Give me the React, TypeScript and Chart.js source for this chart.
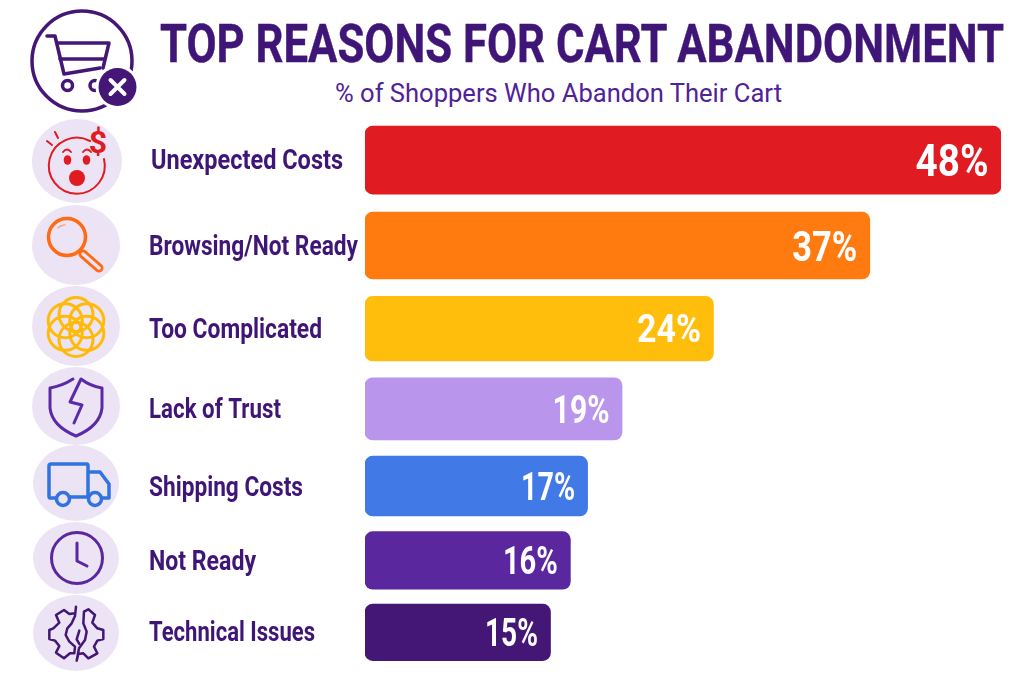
import React, { useEffect, useRef } from "react";
import { Chart, CategoryScale, registerables } from "chart.js";

const categories = ["Unexpected Costs", "Browsing/Not Ready", "Too Complicated", "Lack of Trust", "Shipping Costs", "Not Ready", "Technical Issues"];
const valueLabels = ["48%", "37%", "24%", "19%", "17%", "16%", "15%"];
// bar lengths, in the picture's own % scale
const barLengths = [48, 38.1, 26.3, 19.4, 16.8, 15.5, 14];
const barColors = ["#E01B22", "#FF7B10", "#FFBE0B", "#B995EC", "#4179E6", "#5B279F", "#441675"];
const labelWidths = [192, 209, 173, 132, 154, 107, 166];
const valueSizes = [45, 43, 39, 39, 39, 39, 38];
const valueWidths = [73, 65, 64, 57, 54, 55, 53];

const TEXT = "#3F1577";
const FONT = "Roboto, sans-serif";

// Category axis whose rows tighten gradually from top to bottom, as in the picture.
class TaperedCategoryScale extends CategoryScale {
  static id = "taperedCategory";
  getPixelForDecimal(d: number) {
    return super.getPixelForDecimal(d + 0.13 * d * (1 - d));
  }
}
Chart.register(...registerables, TaperedCategoryScale);

// Labels are squeezed to the condensed widths of the picture with fillText's maxWidth.
const textPlugin = {
  id: "rowText",
  afterDatasetsDraw(chart: any) {
    const { ctx } = chart;
    const bars = chart.getDatasetMeta(0).data;
    const yScale = chart.scales.y;
    ctx.save();
    ctx.textBaseline = "alphabetic";

    ctx.fillStyle = TEXT;
    ctx.textAlign = "left";
    ctx.font = `bold 28px ${FONT}`;
    categories.forEach((name, i) => {
      const y = yScale.getPixelForTick(i) + 9;
      ctx.fillText(name, yScale.left + (i === 0 ? 2 : 0), y, labelWidths[i]);
    });

    ctx.fillStyle = "#FFFFFF";
    ctx.textAlign = "right";
    bars.forEach((bar: any, i: number) => {
      const size = valueSizes[i];
      ctx.font = `bold ${size}px ${FONT}`;
      ctx.fillText(valueLabels[i], bar.x - 12.5, bar.y + size * 0.355, valueWidths[i]);
    });
    ctx.restore();
  },
};

const rowDiscs = [
  [77, 161, 45, 42],
  [76, 245, 44, 40],
  [76, 326, 44, 40],
  [76, 406, 44, 39],
  [76, 483, 43, 38],
  [76, 558, 43, 36],
  [76, 633, 43, 38],
];

const ringCentres = [
  [76, 314.5],
  [76, 339.5],
  [86.8, 320.7],
  [86.8, 333.3],
  [65.2, 320.7],
  [65.2, 333.3],
];

function Icons() {
  const purple = "#441675";
  const violet = "#5B2AA8";
  return (
    <svg width={1024} height={683} style={{ position: "absolute", left: 0, top: 0 }}>
      {rowDiscs.map((d, i) => (
        <ellipse key={i} cx={d[0]} cy={d[1]} rx={d[2]} ry={d[3]} fill="#ECE3F5" />
      ))}

      {/* cart */}
      <g fill="none" stroke={purple} strokeLinecap="round" strokeLinejoin="round">
        <circle cx={82} cy={61} r={50} strokeWidth={3.5} />
        <path strokeWidth={3.5} d="M47 36 H55 L64 74 L100 68" />
        <path strokeWidth={3.5} d="M57 43 H109 L103 68 M60 59 H105" />
        <circle cx={67.5} cy={85.5} r={5} strokeWidth={3.5} />
        <circle cx={95} cy={85.5} r={5} strokeWidth={3.5} />
      </g>
      <circle cx={117.5} cy={87} r={22} fill="#FFFFFF" />
      <circle cx={117.5} cy={87} r={19} fill={purple} />
      <path d="M110.5 80 L124.5 94 M124.5 80 L110.5 94" stroke="#FFFFFF" strokeWidth={4} strokeLinecap="round" />

      {/* surprised face */}
      <g fill="none" stroke="#E01B22" strokeLinecap="round">
        <path strokeWidth={2} d="M90 141 A 28 28 0 1 0 104 159" />
        <path strokeWidth={2} d="M47 141 L52 145 M55 132 L58 138 M63 152 Q67 147 71 152 M83 152 Q87 147 91 152" />
      </g>
      <g fill="#E01B22">
        <ellipse cx={67.5} cy={160} rx={3.8} ry={4.8} />
        <ellipse cx={86.5} cy={160} rx={3.8} ry={4.8} />
        <circle cx={77} cy={178} r={8} />
        <text x={98} y={153} textAnchor="middle" fontFamily={FONT} fontWeight={700} fontSize={32}>$</text>
      </g>

      {/* magnifier */}
      <g fill="none" strokeLinecap="round">
        <circle cx={67} cy={237} r={18.5} stroke="#FF6A13" strokeWidth={3.5} />
        <path d="M58 228 Q61 225 65 225" stroke="#F7A88A" strokeWidth={1.5} />
        <path d="M83 254 L99 268" stroke="#FF6A13" strokeWidth={9} />
        <path d="M83 254 L99 268" stroke="#ECE3F5" strokeWidth={3.5} />
      </g>

      {/* rings */}
      <g fill="none" stroke="#FFBA0A" strokeWidth={3}>
        {ringCentres.map((c, i) => (
          <circle key={i} cx={c[0]} cy={c[1]} r={17} />
        ))}
      </g>

      {/* shield */}
      <g fill="none" stroke={violet} strokeWidth={3} strokeLinecap="round" strokeLinejoin="round">
        <path d="M73 379 Q62 386 50 388 L50 408 Q52 426 76 436 Q100 426 102 408 L102 388 Q90 386 81 379 L70 402 L82 405 L74 423" />
      </g>

      {/* truck */}
      <g fill="none" stroke="#2F74E0" strokeWidth={3.5} strokeLinejoin="round">
        <path d="M56 498 H50 Q49 498 49 496 V466 Q49 464 51 464 H87 Q88 464 88 466 V497 H70" />
        <path d="M88 472 H100 L109 484 V498 H102 M88 497 H89" />
        <circle cx={63} cy={499} r={6.5} />
        <circle cx={95} cy={499} r={6.5} />
      </g>

      {/* clock */}
      <g fill="none" stroke="#5B279F" strokeWidth={3} strokeLinecap="round" strokeLinejoin="round">
        <circle cx={77} cy={558} r={25.5} />
        <path d="M77 543 V561 L87 566" />
      </g>

      {/* split gear */}
      <g transform="translate(20 440) scale(0.3333)" fill="none" stroke={purple} strokeWidth={7.5} strokeLinejoin="round" strokeLinecap="round">
        <path d="M163 520 L148 522 L132 510 L108 525 L118 548 L100 565 L88 570 L88 597 L105 602 L118 618 L108 638 L132 655 L150 640 L163 640 L165 620 L148 605 L137 585 L142 565 L155 550 L165 528 L168 500" />
        <path d="M192 515 L205 508 L225 525 L217 548 L232 565 L250 570 L250 597 L232 602 L222 620 L232 640 L205 655 L190 640 L175 642 L170 662 L177 625 L195 600 L200 575 L190 550 L192 515" />
        <path d="M178 572 L170 598 L178 612" />
      </g>

      {/* heading */}
      <text x={160} y={62} fontFamily={FONT} fontWeight={700} fontSize={54} fill={TEXT} stroke={TEXT} strokeWidth={0.4} textLength={844} lengthAdjust="spacingAndGlyphs">TOP REASONS FOR CART ABANDONMENT</text>
      <text x={335} y={102} fontFamily={FONT} fontWeight={400} fontSize={26} fill="#4F2297" textLength={447} lengthAdjust="spacingAndGlyphs">% of Shoppers Who Abandon Their Cart</text>
    </svg>
  );
}

export default function App() {
  const ref = useRef<HTMLCanvasElement>(null);
  useEffect(() => {
    const chart = new Chart(ref.current as HTMLCanvasElement, {
      type: "bar",
      data: {
        labels: categories,
        datasets: [
          {
            data: barLengths,
            backgroundColor: barColors,
            borderRadius: 8,
            borderSkipped: false,
            barThickness: "flex",
            categoryPercentage: 0.79,
            barPercentage: 1,
          },
        ],
      },
      options: {
        indexAxis: "y",
        animation: false,
        responsive: false,
        layout: { padding: { left: 149, right: 23, top: 116, bottom: 16 } },
        plugins: { legend: { display: false }, tooltip: { enabled: false }, title: { display: false } },
        scales: {
          x: { display: false, min: 0, max: 48 },
          y: {
            type: "taperedCategory",
            grid: { display: false },
            border: { display: false },
            afterFit(scale: any) {
              scale.width = 216;
            },
            ticks: { display: false, autoSkip: false },
          },
        },
      },
      plugins: [textPlugin],
    } as any);
    return () => chart.destroy();
  }, []);
  return (
    <div style={{ position: "absolute", left: 0, top: 0, width: 1024, height: 683, background: "#FFFFFF", overflow: "hidden" }}>
      <Icons />
      <canvas ref={ref} width={1024} height={683} style={{ position: "absolute", left: 0, top: 0 }} />
    </div>
  );
}
